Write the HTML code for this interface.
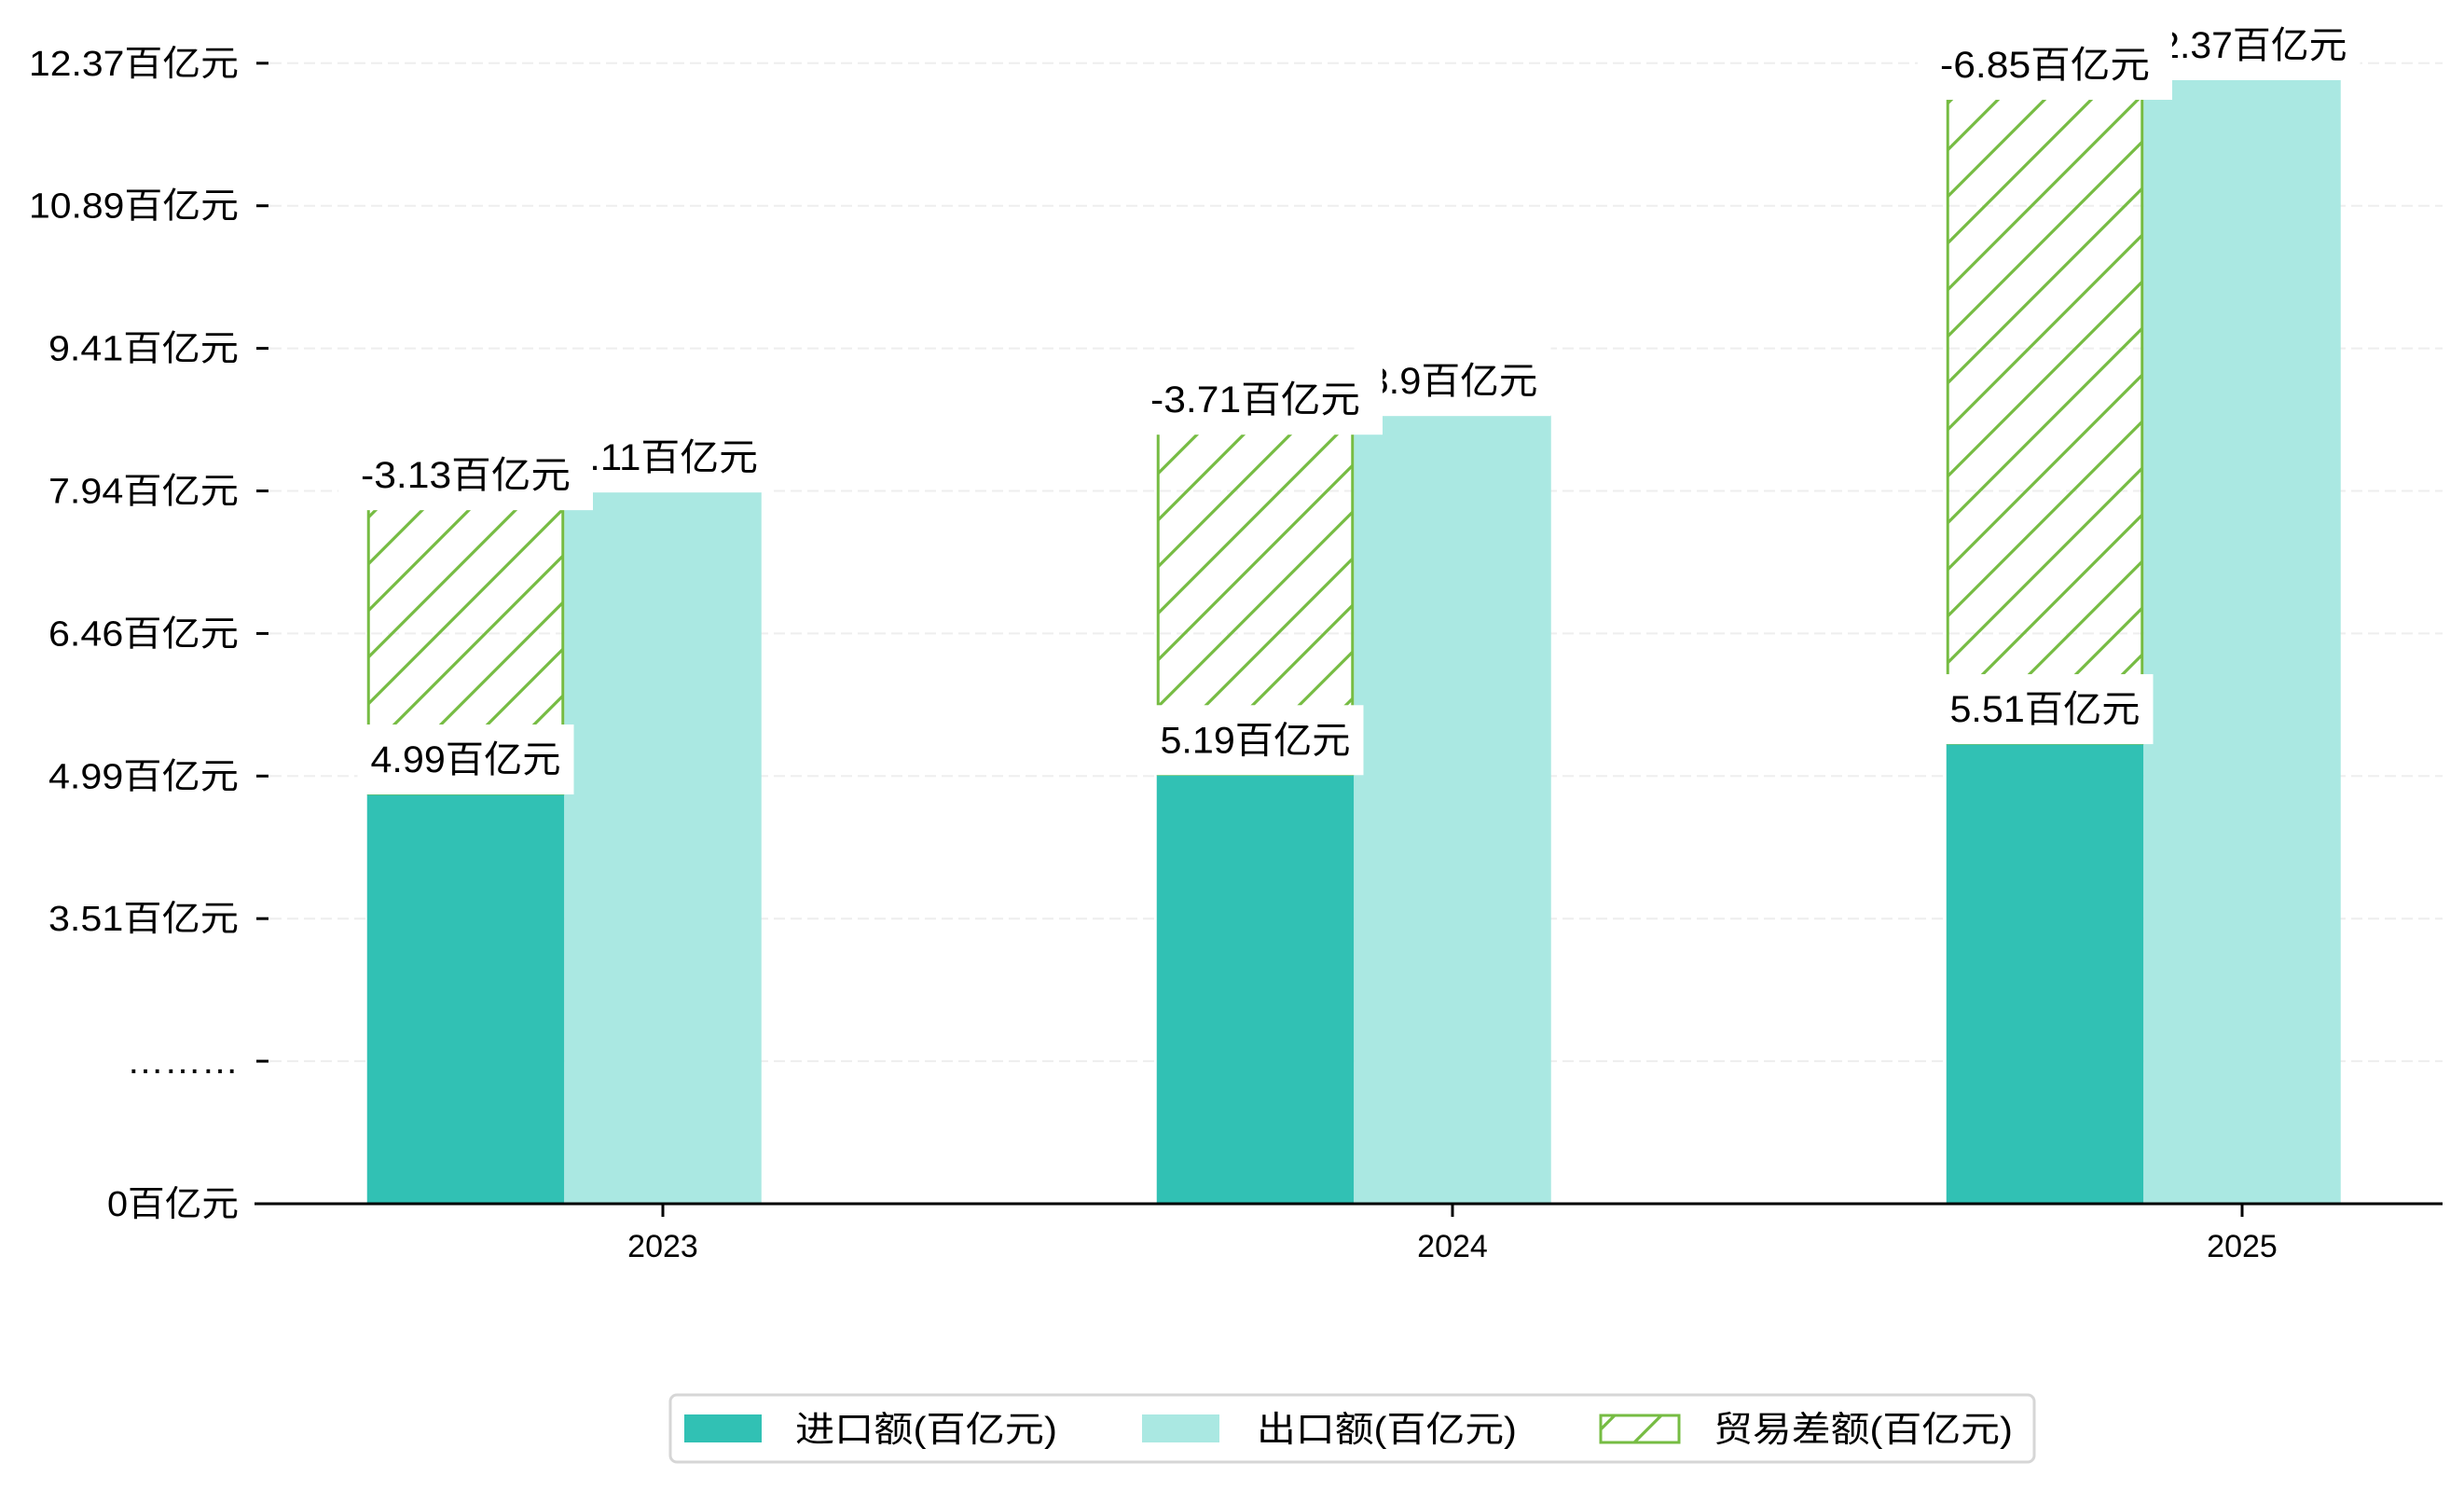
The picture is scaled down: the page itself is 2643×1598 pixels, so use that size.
<!DOCTYPE html>
<html><head><meta charset="utf-8">
<style>
html,body{margin:0;padding:0;background:#fff;}
svg{display:block;}
text{font-family:"WenQuanYi Zen Hei","Liberation Sans","Noto Sans CJK SC",sans-serif;fill:#000;}
</style></head>
<body>
<svg id="chart" width="2643" height="1598" viewBox="0 0 2643 1598" xmlns="http://www.w3.org/2000/svg">
<defs>
<pattern id="hatch" patternUnits="userSpaceOnUse" width="50" height="50">
<path d="M-5,55 L55,-5 M-30,30 L30,-30 M20,80 L80,20" stroke="#76bc43" stroke-width="3.2"/>
</pattern>
</defs>
<g id="grid"></g>
<g id="bars"></g>
<g id="labels"></g>
<g id="axes"></g>
<g id="legend">
<rect x="719" y="1496" width="1463" height="72" rx="7" fill="#fff" stroke="#d6d6d6" stroke-width="3"/>
<rect x="734" y="1517" width="83" height="30" fill="#31c1b4"/>
<text x="853" y="1546" font-size="38" textLength="281" lengthAdjust="spacingAndGlyphs">进口额(百亿元)</text>
<rect x="1225" y="1517" width="83" height="30" fill="#aae8e2"/>
<text x="1348" y="1546" font-size="38" textLength="279" lengthAdjust="spacingAndGlyphs">出口额(百亿元)</text>
<rect x="1717" y="1518" width="84" height="29" fill="url(#hatch)" stroke="#76bc43" stroke-width="3"/>
<text x="1838" y="1546" font-size="38" textLength="321" lengthAdjust="spacingAndGlyphs">贸易差额(百亿元)</text>
</g>
</svg>
<script>
const categories = ["2023", "2024", "2025"];
const importValues = [4.99, 5.19, 5.51];
const exportValues = [8.11, 8.9, 12.37];
const balanceValues = [-3.13, -3.71, -6.85];
const yTickLabels = ["0百亿元", "………", "3.51百亿元", "4.99百亿元", "6.46百亿元", "7.94百亿元", "9.41百亿元", "10.89百亿元", "12.37百亿元"];

const NS = "http://www.w3.org/2000/svg";
const AXIS_Y = 1291, AXIS_L = 273, AXIS_R = 2620;
const TICK_STEP = 152.9;
const BAR_W = 211.5;
function xCenter(i) { return 711 + i * 847; }
function yScale(v) { return 1369 - 103.8 * v; }
function tickY(i) { return AXIS_Y - i * TICK_STEP; }
function textW(s) {
  let w = 0;
  for (const ch of s) w += /[\u0000-\u00ff]/.test(ch) ? 21 : 40;
  return w;
}
function mk(tag, attrs, parent) {
  const e = document.createElementNS(NS, tag);
  for (const k in attrs) e.setAttribute(k, attrs[k]);
  parent.appendChild(e);
  return e;
}
const grid = document.getElementById('grid');
const bars = document.getElementById('bars');
const labels = document.getElementById('labels');
const axes = document.getElementById('axes');

yTickLabels.forEach((lab, i) => {
  const y = tickY(i);
  if (i > 0) {
    const g = mk('line', {x1: 290, x2: AXIS_R, y1: y, y2: y, stroke: '#eeeeee', 'stroke-width': 2, 'stroke-dasharray': '12 6'}, grid);
    
    
    const tk = mk('line', {x1: 275, x2: 288, y1: y, y2: y, stroke: '#000', 'stroke-width': 3}, axes);
    
    
  }
  const t = mk('text', {x: 256, y: y + 13, 'font-size': 38, 'text-anchor': 'end', textLength: textW(lab), lengthAdjust: 'spacingAndGlyphs'}, axes);
  t.textContent = lab;
  
  
});

const ax = mk('line', {x1: AXIS_L, x2: AXIS_R, y1: AXIS_Y, y2: AXIS_Y, stroke: '#000', 'stroke-width': 3}, axes);



function labelBox(str, cx, cyText, name, pad) {
  const w = textW(str);
  const r = mk('rect', {x: cx - w / 2 - pad, y: cyText - 37, width: w + 2 * pad, height: 75, fill: '#fff'}, labels);
  
  
  const t = mk('text', {x: cx, y: cyText + 14, 'font-size': 40, 'text-anchor': 'middle', textLength: w, lengthAdjust: 'spacingAndGlyphs'}, labels);
  t.textContent = str;
  
  
}

categories.forEach((c, i) => {
  const cx = xCenter(i);
  const xi = cx - 1.5 * BAR_W, xe = cx - 0.5 * BAR_W;
  const yi = yScale(importValues[i]);
  const ye = yScale(exportValues[i]);
  const yb = yScale(importValues[i] + Math.abs(balanceValues[i]));
  const bi = mk('rect', {x: xi, y: yi, width: BAR_W, height: AXIS_Y - yi, fill: '#31c1b4'}, bars);
  
  
  const be = mk('rect', {x: xe, y: ye, width: BAR_W, height: AXIS_Y - ye, fill: '#aae8e2'}, bars);
  
  
  const bb = mk('rect', {x: xi + 1.5, y: yb, width: BAR_W - 3, height: yi - yb, fill: 'url(#hatch)', stroke: '#76bc43', 'stroke-width': 3}, bars);
  
  
  const tk = mk('line', {x1: cx, x2: cx, y1: AXIS_Y, y2: AXIS_Y + 14, stroke: '#000', 'stroke-width': 3}, axes);
  
  
  const xl = mk('text', {x: cx, y: 1348, 'font-size': 34, 'text-anchor': 'middle'}, axes);
  xl.textContent = c;
  
  
});
categories.forEach((c, i) => {
  labelBox(importValues[i] + '百亿元', xCenter(i) - BAR_W, yScale(importValues[i]) - 37, 'import-label', 14);
});
categories.forEach((c, i) => {
  labelBox(exportValues[i] + '百亿元', xCenter(i), yScale(exportValues[i]) - 37, 'export-label', 14);
});
categories.forEach((c, i) => {
  labelBox(balanceValues[i] + '百亿元', xCenter(i) - BAR_W, yScale(importValues[i] + Math.abs(balanceValues[i])) - 17, 'balance-label', 24);
});
</script>
</body></html>
